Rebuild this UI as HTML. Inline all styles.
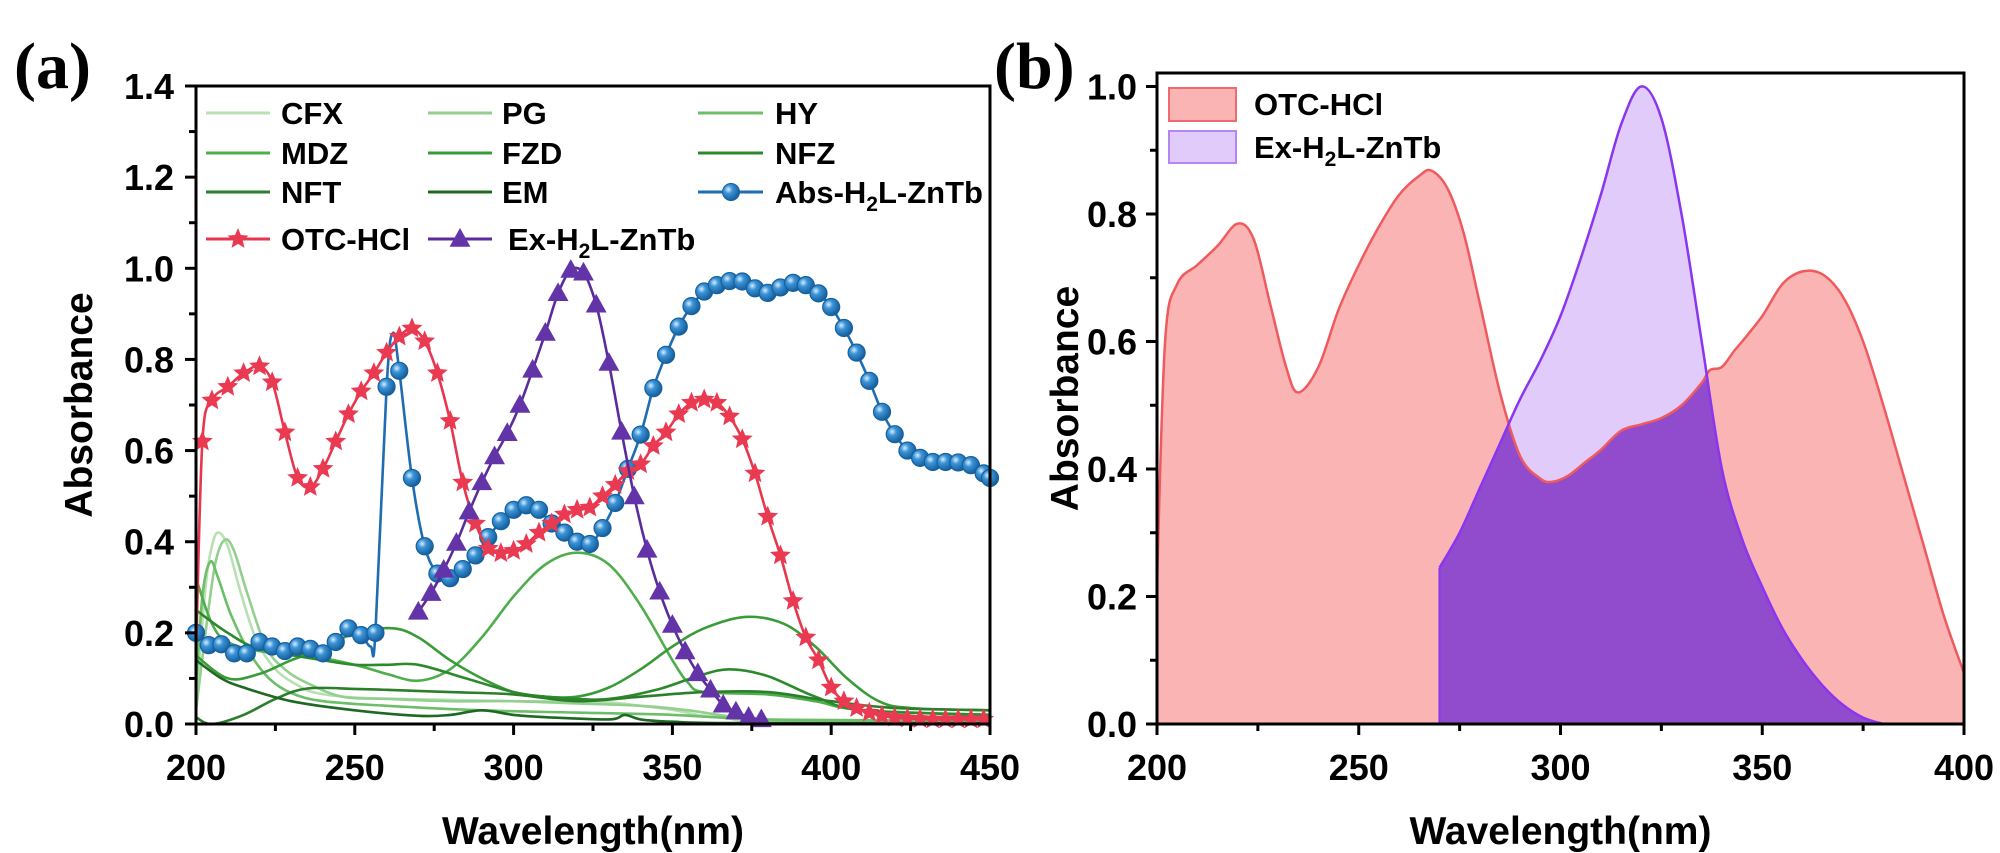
<!DOCTYPE html>
<html><head><meta charset="utf-8">
<style>
html,body{margin:0;padding:0;background:#fff;}
svg{display:block;font-family:"Liberation Sans",Arial,sans-serif;}
.tk{font-size:36px;font-weight:bold;}
.lg{font-size:31px;font-weight:bold;}
.ttl{font-size:39px;font-weight:bold;}
</style></head>
<body>
<svg id="chart" width="2000" height="853" viewBox="0 0 2000 853" xmlns="http://www.w3.org/2000/svg">
<defs>
<radialGradient id="ball" cx="0.35" cy="0.35" r="0.7">
<stop offset="0" stop-color="#d8ecff"/><stop offset="0.35" stop-color="#3a93d6"/><stop offset="1" stop-color="#135a98"/>
</radialGradient>
</defs>
<g id="pa"></g>
<g id="pb"></g>
</svg>
<script>
// ---------- Panel (a) data ----------
const aXTicks = [200,250,300,350,400,450];
const aYTicks = [0.0,0.2,0.4,0.6,0.8,1.0,1.2,1.4];
const otcW = [200,202,205,210,215,220,224,228,232,236,240,244,248,252,256,260,264,268,272,276,280,284,288,292,296,300,304,308,312,316,320,324,328,332,336,340,344,348,352,356,360,364,368,372,376,380,384,388,392,396,400,404,408,412,416,420,424,428,432,436,440,444,448];
const otcV = [0.15,0.62,0.71,0.74,0.77,0.785,0.75,0.64,0.54,0.52,0.56,0.62,0.68,0.73,0.77,0.815,0.85,0.868,0.84,0.77,0.665,0.53,0.44,0.385,0.375,0.38,0.395,0.42,0.44,0.46,0.47,0.475,0.5,0.525,0.555,0.57,0.61,0.64,0.68,0.705,0.712,0.705,0.675,0.625,0.55,0.455,0.37,0.27,0.19,0.14,0.08,0.05,0.035,0.025,0.018,0.014,0.012,0.011,0.01,0.01,0.01,0.01,0.01];
const absW = [200,204,208,212,216,220,224,228,232,236,240,244,248,252,255,256.5,260,262,264,268,272,276,280,284,288,292,296,300,304,308,312,316,320,324,328,332,336,340,344,348,352,356,360,364,368,372,376,380,384,388,392,396,400,404,408,412,416,420,424,428,432,436,440,444,448,450];
const absV = [0.2,0.173,0.175,0.155,0.155,0.18,0.17,0.16,0.17,0.165,0.155,0.18,0.21,0.195,0.17,0.2,0.74,0.858,0.775,0.54,0.39,0.33,0.32,0.34,0.37,0.41,0.445,0.47,0.48,0.47,0.44,0.42,0.40,0.395,0.43,0.485,0.56,0.635,0.737,0.81,0.872,0.917,0.949,0.963,0.972,0.971,0.956,0.946,0.958,0.968,0.963,0.945,0.915,0.869,0.815,0.753,0.685,0.636,0.60,0.584,0.575,0.575,0.574,0.568,0.55,0.54];
const absMarkerSkip = [255,262];
const exW = [270,274,278,282,286,290,294,298,302,306,310,314,318,322,326,330,334,338,342,346,350,354,358,362,366,370,374,378];
const exV = [0.246,0.287,0.338,0.397,0.466,0.53,0.587,0.638,0.70,0.777,0.858,0.945,0.996,0.99,0.92,0.792,0.641,0.499,0.382,0.29,0.217,0.159,0.111,0.075,0.042,0.027,0.015,0.01];
const cfxW = [200,203,205,207,210,214,219,225,232,238,250,265,278,300,326,340,350,358,367,380,450];
const cfxV = [0.05,0.3,0.39,0.42,0.39,0.29,0.185,0.12,0.085,0.068,0.058,0.055,0.053,0.05,0.049,0.04,0.031,0.02,0.013,0.006,0.004];
const pgW = [200,203,206,209,212,216,222,228,235,246,260,280,300,320,340,355,370,390,450];
const pgV = [0.03,0.2,0.35,0.404,0.38,0.29,0.17,0.12,0.09,0.06,0.055,0.05,0.05,0.045,0.04,0.03,0.015,0.006,0.004];
const hyW = [200,202,204.5,207,211,217,223,230,240,260,290,320,350,380,450];
const hyV = [0.08,0.28,0.356,0.32,0.24,0.155,0.1,0.068,0.05,0.04,0.03,0.025,0.02,0.01,0.008];
const mdzW = [200,205,210,220,235,250,260,270,280,290,300,310,320,330,340,350,355,360,380,395,410,450];
const mdzV = [0.32,0.22,0.18,0.16,0.15,0.13,0.11,0.095,0.12,0.19,0.28,0.35,0.376,0.35,0.26,0.14,0.09,0.07,0.065,0.05,0.03,0.02];
const fzdW = [200,210,220,230,240,250,262,270,280,290,300,310,320,330,340,350,360,373,385,395,405,415,425,450];
const fzdV = [0.15,0.1,0.11,0.14,0.165,0.2,0.21,0.19,0.14,0.1,0.07,0.06,0.06,0.08,0.12,0.17,0.21,0.235,0.22,0.17,0.1,0.05,0.035,0.03];
const nfzW = [200,210,220,240,250,260,270,285,300,310,320,330,345,358,368,380,395,410,450];
const nfzV = [0.25,0.2,0.165,0.14,0.13,0.13,0.13,0.1,0.07,0.06,0.055,0.055,0.075,0.105,0.12,0.105,0.06,0.03,0.02];
const nftW = [200,205,215,225,235,250,260,280,300,320,340,360,380,400,420,450];
const nftV = [0.015,0.0,0.02,0.055,0.078,0.077,0.075,0.07,0.065,0.05,0.06,0.07,0.07,0.05,0.035,0.03];
const emW = [200,208,215,230,250,270,280,290,300,310,330,335,340,350,370,450];
const emV = [0.14,0.1,0.08,0.05,0.03,0.018,0.02,0.03,0.02,0.015,0.01,0.02,0.01,0.005,0.002,0.002];

// ---------- Panel (b) data ----------
const bXTicks = [200,250,300,350,400];
const bYTicks = [0.0,0.2,0.4,0.6,0.8,1.0];
const bOtcW = [200,202,205,210,215,220,224,228,232,235,240,245,250,255,260,265,268,272,276,280,285,290,295,298,302,306,310,315,320,325,330,335,337,340,343,345,350,355,360,365,370,375,380,385,390,395,400];
const bOtcV = [0.22,0.6,0.69,0.72,0.75,0.785,0.76,0.66,0.56,0.52,0.56,0.65,0.72,0.78,0.83,0.86,0.868,0.84,0.77,0.66,0.52,0.42,0.385,0.38,0.39,0.41,0.43,0.46,0.47,0.48,0.5,0.535,0.555,0.56,0.585,0.6,0.64,0.69,0.71,0.705,0.67,0.6,0.5,0.39,0.28,0.17,0.08];
const bExW = [270,275,280,285,290,295,300,305,310,315,320,325,330,335,340,345,350,355,360,365,370,375,380];
const bExV = [0.245,0.3,0.37,0.44,0.51,0.57,0.64,0.73,0.83,0.94,1.0,0.95,0.8,0.6,0.4,0.29,0.215,0.15,0.1,0.06,0.03,0.01,0.0];

const NS='http://www.w3.org/2000/svg';
function mk(tag,attrs,parent,txt){const e=document.createElementNS(NS,tag);for(const k in attrs)e.setAttribute(k,attrs[k]);if(txt!==undefined)e.textContent=txt;parent.appendChild(e);return e;}
function smooth(pts){let d='M'+pts[0][0].toFixed(1)+','+pts[0][1].toFixed(1);
 for(let i=0;i<pts.length-1;i++){const p0=pts[Math.max(0,i-1)],p1=pts[i],p2=pts[i+1],p3=pts[Math.min(pts.length-1,i+2)];
 const c1x=p1[0]+(p2[0]-p0[0])/6,c1y=p1[1]+(p2[1]-p0[1])/6,c2x=p2[0]-(p3[0]-p1[0])/6,c2y=p2[1]-(p3[1]-p1[1])/6;
 d+=' C'+c1x.toFixed(1)+','+c1y.toFixed(1)+' '+c2x.toFixed(1)+','+c2y.toFixed(1)+' '+p2[0].toFixed(1)+','+p2[1].toFixed(1);}
 return d;}
function starPath(cx,cy,R){let d='';for(let i=0;i<10;i++){const r=i%2?R*0.45:R;const a=-Math.PI/2+i*Math.PI/5;d+=(i?'L':'M')+(cx+r*Math.cos(a)).toFixed(1)+','+(cy+r*Math.sin(a)).toFixed(1);}return d+'Z';}
function triPath(cx,cy,s){return 'M'+cx+','+(cy-s)+'L'+(cx+s*0.95)+','+(cy+s*0.7)+'L'+(cx-s*0.95)+','+(cy+s*0.7)+'Z';}

function axes(g,L,R,T,B,xT,yT,X,Y,xMinor,yMinor,yLabelX,titleX,pfx){
 let e;
 e=mk('rect',{x:L,y:T,width:R-L,height:B-T,fill:'none',stroke:'#000','stroke-width':3},g);
 
 
 xT.forEach(t=>{const x=X(t);mk('line',{x1:x,y1:B,x2:x,y2:B+11,stroke:'#000','stroke-width':3},g);
  e=mk('text',{x:x,y:B+56,'text-anchor':'middle',class:'tk'},g,String(t));
  
  });
 xMinor.forEach(t=>mk('line',{x1:X(t),y1:B,x2:X(t),y2:B+7,stroke:'#000','stroke-width':3},g));
 yT.forEach(t=>{const y=Y(t);mk('line',{x1:L-11,y1:y,x2:L,y2:y,stroke:'#000','stroke-width':3},g);
  e=mk('text',{x:yLabelX,y:y+13,'text-anchor':'end',class:'tk'},g,t.toFixed(1));
  
  });
 yMinor.forEach(t=>mk('line',{x1:L-7,y1:Y(t),x2:L,y2:Y(t),stroke:'#000','stroke-width':3},g));
 e=mk('text',{x:(L+R)/2,y:844,'text-anchor':'middle',class:'ttl'},g,'Wavelength(nm)');
 
 
 e=mk('text',{x:titleX,y:(T+B)/2,'text-anchor':'middle',class:'ttl',transform:'rotate(-90 '+titleX+' '+((T+B)/2)+')'},g,'Absorbance');
 
 
}

// ---------- Panel (a) ----------
(function(){
 const g=document.getElementById('pa');
 
 
 const L=196,R=990,T=86,B=724;
 const X=w=>L+(w-200)*(R-L)/250, Y=v=>B-v*(B-T)/1.4;
 let e;
 e=mk('text',{x:14,y:88,'font-family':'Liberation Serif,serif','font-weight':'bold','font-size':'66'},g,'(a)');
 
 
 const greens=[['cfx',cfxW,cfxV,'#b9dfb3'],['pg',pgW,pgV,'#93cf8e'],['hy',hyW,hyV,'#6cbf68'],['mdz',mdzW,mdzV,'#4fae4c'],['fzd',fzdW,fzdV,'#3a9c38'],['nfz',nfzW,nfzV,'#2c8a2c'],['nft',nftW,nftV,'#2b7f2b'],['em',emW,emV,'#1e6a22']];
 greens.forEach(s=>{const pts=s[1].map((w,i)=>[X(w),Y(s[2][i])]);
  e=mk('path',{d:smooth(pts),fill:'none',stroke:s[3],'stroke-width':2.6},g);
  
  });
 // Abs
 let pts=absW.map((w,i)=>[X(w),Y(absV[i])]);
 e=mk('path',{d:smooth(pts),fill:'none',stroke:'#1e6db2','stroke-width':2.6},g);
 
 
 absW.forEach((w,i)=>{if(absMarkerSkip.indexOf(w)>=0)return;
  e=mk('circle',{cx:X(w),cy:Y(absV[i]),r:8.5,fill:'url(#ball)',stroke:'#15609f','stroke-width':1.2},g);
  
  });
 // OTC
 pts=otcW.map((w,i)=>[X(w),Y(otcV[i])]);
 e=mk('path',{d:smooth(pts),fill:'none',stroke:'#e8364e','stroke-width':2.6},g);
 
 
 otcW.forEach((w,i)=>{if(i<1)return;
  e=mk('path',{d:starPath(X(w),Y(otcV[i]),11),fill:'#ea3a52'},g);
  
  });
 // Ex
 pts=exW.map((w,i)=>[X(w),Y(exV[i])]);
 e=mk('path',{d:smooth(pts),fill:'none',stroke:'#5a2b9c','stroke-width':2.6},g);
 
 
 exW.forEach((w,i)=>{
  e=mk('path',{d:triPath(X(w),Y(exV[i]),11),fill:'#6334a8'},g);
  
  });
 axes(g,L,R,T,B,aXTicks,aYTicks,X,Y,[225,275,325,375,425],[0.1,0.3,0.5,0.7,0.9,1.1,1.3],174,92,'a-');
 // legend
 const lg=mk('g',{},g);
 
 
 const rows=[113,153,192,239];
 const cols=[[206,270,281],[428,492,502],[698,763,775]];
 const ents=[[' CFX',0,0,'#b9dfb3'],['PG',0,1,'#93cf8e'],['HY',0,2,'#6cbf68'],['MDZ',1,0,'#4fae4c'],['FZD',1,1,'#3a9c38'],['NFZ',1,2,'#2c8a2c'],['NFT',2,0,'#2b7f2b'],['EM',2,1,'#1e6a22']];
 ents.forEach(en=>{const y=rows[en[1]],c=cols[en[2]];
  const eg=mk('g',{},lg);
  
  
  mk('line',{x1:c[0],y1:y,x2:c[1],y2:y,stroke:en[3],'stroke-width':3},eg);
  mk('text',{x:c[2],y:y+11,class:'lg','xml:space':'preserve'},eg,en[0]);});
 let eg=mk('g',{},lg);
 
 
 mk('line',{x1:698,y1:192,x2:763,y2:192,stroke:'#1e6db2','stroke-width':3},eg);
 mk('circle',{cx:731,cy:192,r:8.5,fill:'url(#ball)',stroke:'#15609f'},eg);
 let t=mk('text',{x:775,y:203,class:'lg'},eg,'Abs-H');
 mk('tspan',{'font-size':'21',dy:'8'},t,'2');
 mk('tspan',{dy:'-8'},t,'L-ZnTb');
 eg=mk('g',{},lg);
 
 
 mk('line',{x1:206,y1:239,x2:270,y2:239,stroke:'#e8364e','stroke-width':3},eg);
 mk('path',{d:starPath(238,239,11),fill:'#ea3a52'},eg);
 mk('text',{x:281,y:250,class:'lg'},eg,'OTC-HCl');
 eg=mk('g',{},lg);
 
 
 mk('line',{x1:428,y1:239,x2:492,y2:239,stroke:'#5a2b9c','stroke-width':3},eg);
 mk('path',{d:triPath(460,239,11),fill:'#6334a8'},eg);
 t=mk('text',{x:508,y:250,class:'lg'},eg,'Ex-H');
 mk('tspan',{'font-size':'21',dy:'8'},t,'2');
 mk('tspan',{dy:'-8'},t,'L-ZnTb');
})();

// ---------- Panel (b) ----------
(function(){
 const g=document.getElementById('pb');
 
 
 const L=1157,R=1964,T=73,B=724;
 const X=w=>L+(w-200)*(R-L)/200, Y=v=>B-v*637.5;
 let e;
 e=mk('text',{x:994,y:88,'font-family':'Liberation Serif,serif','font-weight':'bold','font-size':'66'},g,'(b)');
 
 
 const op=bOtcW.map((w,i)=>[X(w),Y(bOtcV[i])]);
 const oLine=smooth(op);
 const oArea=oLine+' L'+X(bOtcW[bOtcW.length-1])+','+B+' L'+X(bOtcW[0])+','+B+'Z';
 const ep=bExW.map((w,i)=>[X(w),Y(bExV[i])]);
 const eLine=smooth(ep);
 const eArea=eLine+' L'+X(bExW[bExW.length-1])+','+B+' L'+X(bExW[0])+','+B+'Z';
 const defs=document.querySelector('defs');
 const cp=mk('clipPath',{id:'otcClip'},defs);
 mk('path',{d:oArea},cp);
 e=mk('path',{d:oArea,fill:'#fbb4b4'},g);
 
 
 e=mk('path',{d:eArea,fill:'#e1cbfb'},g);
 
 
 e=mk('path',{d:eArea,fill:'#904ccd','clip-path':'url(#otcClip)'},g);
 
 
 e=mk('path',{d:oLine,fill:'none',stroke:'#ef5a5e','stroke-width':2.5},g);
 
 
 e=mk('path',{d:eLine,fill:'none',stroke:'#8a35f0','stroke-width':2.5},g);
 
 
 mk('line',{x1:X(270),y1:Y(0),x2:X(270),y2:Y(bExV[0]),stroke:'#8a35f0','stroke-width':2},g);
 axes(g,L,R,T,B,bXTicks,bYTicks,X,Y,[225,275,325,375],[0.1,0.3,0.5,0.7,0.9],1137,1078,'b-');
 const lg=mk('g',{},g);
 
 
 let eg=mk('g',{},lg);
 
 
 mk('rect',{x:1169,y:88,width:67,height:33,fill:'#fbb4b4',stroke:'#ef6a6e','stroke-width':2},eg);
 mk('text',{x:1254,y:115,class:'lg'},eg,'OTC-HCl');
 eg=mk('g',{},lg);
 
 
 mk('rect',{x:1169,y:131,width:67,height:32,fill:'#e1cbfb',stroke:'#b585f5','stroke-width':2},eg);
 const t=mk('text',{x:1254,y:158,class:'lg'},eg,'Ex-H');
 mk('tspan',{'font-size':'21',dy:'8'},t,'2');
 mk('tspan',{dy:'-8'},t,'L-ZnTb');
})();
</script>
</body></html>
